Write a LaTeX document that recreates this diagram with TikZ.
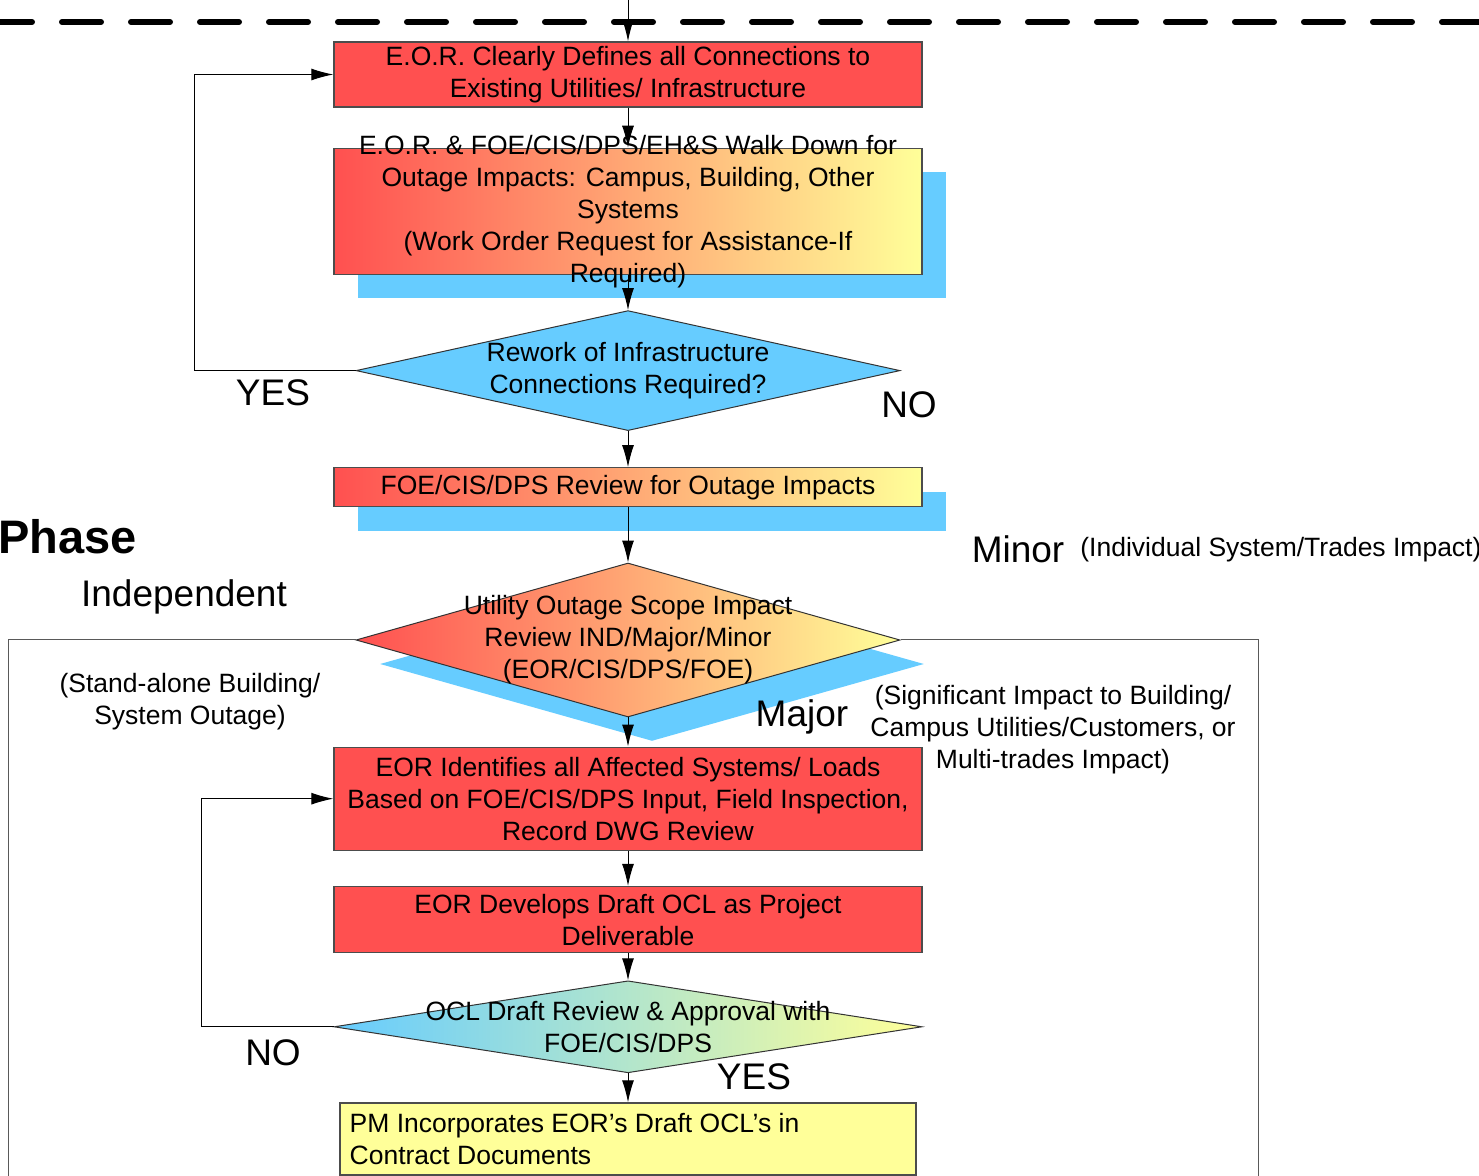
\documentclass[tikz,border=0pt]{standalone}
\usepackage{fontspec}
\setmainfont{Liberation Sans}
\usetikzlibrary{arrows.meta,positioning,shapes.geometric,shadows}
\definecolor{boxred}{HTML}{FF5050}
\definecolor{boxblue}{HTML}{66CCFF}
\definecolor{boxyellow}{HTML}{FFFF99}

\begin{document}
\begin{tikzpicture}[x=0.5pt,y=-0.5pt,
  box/.style={rectangle,draw=black!70,line width=0.7pt,minimum width=294pt,inner sep=0pt},
  dec/.style={diamond,draw=black!80,line width=0.5pt,inner sep=0pt},
  fade/.style={left color=boxred,right color=boxyellow},
  backing/.style={drop shadow={shadow xshift=12pt,shadow yshift=-12pt,fill=boxblue,opacity=1}},
  txt/.style={align=center,inner sep=0pt,font=\fontsize{13.25}{16}\selectfont},
  big/.style={inner sep=0pt,font=\fontsize{18.5}{22}\selectfont},
  flow/.style={draw=black,line width=0.5pt,-{Latex[length=11pt,width=6pt]}},
  side/.style={draw=black!65,line width=0.5pt}]

  \useasboundingbox (0,0) rectangle (1479,1176);
  \draw[line width=3pt,line cap=round,dash pattern=on 19.5pt off 15pt,dash phase=3.5pt] (0,22) -- (1479,22);

  \coordinate (top) at (628,0);
  \node[box,fill=boxred,minimum height=32.5pt] (b1) at (628,74.5) {};
  \node[box,fade,backing,minimum height=63pt,below=20pt of b1] (b2) {};
  \node[dec,fill=boxblue,minimum width=272pt,minimum height=60pt,below=17.5pt of b2] (d1) {};
  \node[box,fade,backing,minimum height=19.5pt,below=18pt of d1] (b3) {};
  \node[dec,fade,backing,minimum width=272pt,minimum height=77pt,below=27.5pt of b3] (d2) {};
  \node[box,fill=boxred,minimum height=51.5pt,below=14.5pt of d2] (b4) {};
  \node[box,fill=boxred,minimum height=33pt,below=17.5pt of b4] (b5) {};
  \node[dec,left color=boxblue,right color=boxyellow,minimum width=294pt,minimum height=46pt,below=13.5pt of b5] (d3) {};
  \node[box,fill=boxyellow,minimum width=288pt,minimum height=36pt,below=14.5pt of d3] (b6) {};

  \node[txt] (t1) at (b1) {E.O.R. Clearly Defines all Connections to\\Existing Utilities/ Infrastructure};
  \node[txt] (t2) at (b2) {E.O.R. \& FOE/CIS/DPS/EH\&S Walk Down for\\Outage Impacts: Campus, Building, Other\\Systems\\(Work Order Request for Assistance-If\\Required)};
  \node[txt] (t3) at (d1) {Rework of Infrastructure\\Connections Required?};
  \node[txt] (t4) at (b3) {FOE/CIS/DPS Review for Outage Impacts};
  \node[txt] (t5) at (d2) {Utility Outage Scope Impact\\Review IND/Major/Minor\\(EOR/CIS/DPS/FOE)};
  \node[txt] (t6) at (b4) {EOR Identifies all Affected Systems/ Loads\\Based on FOE/CIS/DPS Input, Field Inspection,\\Record DWG Review};
  \node[txt] (t7) at (b5) {EOR Develops Draft OCL as Project\\Deliverable};
  \node[txt] (t8) at (d3) {OCL Draft Review \& Approval with\\FOE/CIS/DPS};
  \node[txt,align=left,anchor=west] (t9) at ([xshift=5pt]b6.west) {PM Incorporates EOR’s Draft OCL’s in\\Contract Documents};

  \node[big] (yes1) at (273,393) {YES};
  \node[big] (no1) at (909,405) {NO};
  \node[inner sep=0pt,font=\fontsize{23.5}{28}\selectfont\bfseries,anchor=west] (phase) at (-2,537) {Phase};
  \node[big] (indep) at (184,597) {Independent};
  \node[txt] (indepnote) at (190,702) {(Stand-alone Building/\\System Outage)};
  \node[big] (minor) at (1018,549) {Minor};
  \node[txt,anchor=west] (minornote) at (1080,550) {(Individual System/Trades Impact)};
  \node[big] (major) at (802,717) {Major};
  \node[txt] (majornote) at (1053,730) {(Significant Impact to Building/\\Campus Utilities/Customers, or\\Multi-trades Impact)};
  \node[big] (no2) at (273,1053) {NO};
  \node[big] (yes2) at (754,1077) {YES};

  \coordinate (independ) at (8,1180);
  \coordinate (majorend) at (1258,1180);
  \coordinate (b6end) at (628,1180);

  \draw[flow] (top) -- (b1);
  \draw[flow] (b1) -- (b2);
  \draw[flow] (b2) -- (d1);
  \draw[flow] (d1.west) -- ++(-161,0) |- (b1.west);
  \draw[flow] (d1) -- (b3);
  \draw[flow] (b3) -- (d2);
  \draw[side] (d2.west) -| (independ);
  \draw[side] (d2.east) -| (majorend);
  \draw[flow] (d2) -- (b4);
  \draw[flow] (b4) -- (b5);
  \draw[flow] (b5) -- (d3);
  \draw[flow] (d3.west) -- ++(-132,0) |- (b4.west);
  \draw[flow] (d3) -- (b6);
  \draw[side] (b6) -- (b6end);
\end{tikzpicture}
\end{document}
